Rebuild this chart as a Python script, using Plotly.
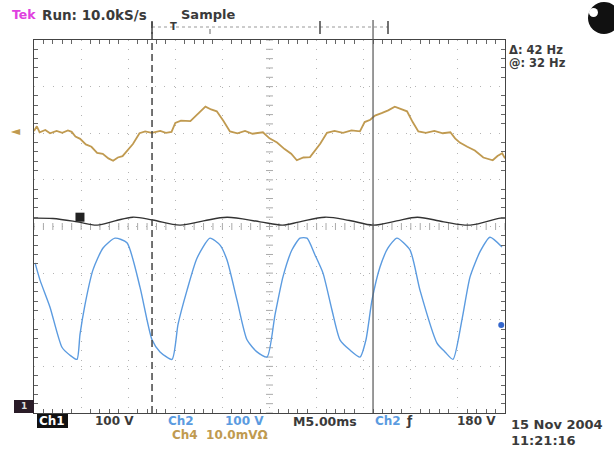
import numpy as np
import plotly.graph_objects as go

# ---------------- data (time in ms, vertical in divisions) ----------------
# Ch4 (tan) trace
t4 = [0.0, 0.3, 0.6, 1.2, 1.7, 2.4, 3.0, 3.6, 4.0, 4.4, 4.9, 5.5, 6.1, 6.7, 7.3, 7.9,
      8.4, 8.9, 9.4, 9.9, 10.5, 11.2, 11.8, 12.5, 13.4, 14.0, 14.6, 15.0, 15.6, 16.6,
      17.2, 17.6, 18.2, 18.8, 19.4, 20.1, 20.8, 21.6, 22.4, 23.2, 24.3, 25.0, 25.8,
      26.6, 27.3, 27.9, 28.6, 29.3, 29.8, 30.4, 31.1, 31.9, 32.8, 33.7, 34.6, 35.1,
      35.7, 36.2, 36.9, 37.6, 38.3, 39.0, 39.6, 40.2, 40.8, 41.6, 42.5, 43.4, 44.2,
      44.7, 45.2, 46.0, 46.8, 47.7, 48.2, 48.7, 49.2, 49.7, 50.0]
y4 = [2.05, 2.15, 2.02, 2.07, 2.00, 2.05, 2.01, 2.06, 2.03, 1.93, 1.88, 1.76, 1.71,
      1.58, 1.56, 1.46, 1.41, 1.48, 1.51, 1.62, 1.77, 2.00, 2.04, 2.01, 2.05, 2.01,
      2.03, 2.22, 2.27, 2.26, 2.38, 2.47, 2.57, 2.51, 2.47, 2.27, 2.04, 2.00, 2.05,
      1.99, 2.02, 1.89, 1.80, 1.66, 1.56, 1.42, 1.48, 1.49, 1.63, 1.78, 2.01, 2.05,
      2.01, 2.06, 2.04, 2.24, 2.29, 2.38, 2.43, 2.49, 2.57, 2.51, 2.47, 2.24, 2.04,
      2.01, 2.05, 2.00, 2.02, 1.89, 1.80, 1.71, 1.63, 1.48, 1.45, 1.42, 1.51, 1.57, 1.46]

# Ch3 (black) trace
t3 = [0.0, 2.0, 4.6, 6.7, 8.6, 10.5, 12.6, 15.5, 18.0, 20.5, 24.0, 26.4, 28.2, 30.9,
      33.5, 36.0, 38.5, 40.7, 43.5, 46.3, 49.5, 50.0]
y3 = [0.18, 0.17, 0.10, 0.03, 0.12, 0.20, 0.14, 0.03, 0.12, 0.20, 0.10, 0.03, 0.10,
      0.20, 0.13, 0.03, 0.12, 0.20, 0.10, 0.03, 0.18, 0.18]

# Ch2 (blue) trace
t2 = [0.11, 0.64, 1.70, 2.97, 3.82, 4.56, 4.88, 5.41, 6.26, 7.33, 8.60, 9.87, 11.25,
      12.53, 13.38, 14.65, 15.29, 16.24, 17.30, 18.68, 19.75, 20.49, 21.55, 22.61,
      23.67, 24.74, 25.58, 26.43, 27.39, 28.24, 28.98, 29.83, 30.68, 31.63, 32.48,
      33.54, 34.61, 35.24, 35.88, 36.73, 37.58, 38.53, 39.91, 40.98, 42.78, 43.63,
      44.48, 45.44, 46.29, 47.35, 48.41, 49.68]
y2 = [-0.78, -1.15, -1.73, -2.59, -2.76, -2.85, -2.32, -1.68, -0.93, -0.46, -0.25,
      -0.35, -1.30, -2.43, -2.69, -2.85, -2.10, -1.37, -0.68, -0.25, -0.40, -0.72,
      -1.58, -2.43, -2.69, -2.80, -1.90, -1.08, -0.50, -0.25, -0.25, -0.61, -1.00,
      -1.79, -2.43, -2.65, -2.80, -2.43, -1.58, -0.87, -0.46, -0.25, -0.50, -1.37,
      -2.50, -2.69, -2.85, -1.99, -1.08, -0.54, -0.23, -0.44]

# cursor times (ms)
cursors = [12.53, 35.99]
# Ch3 marker and Ch2 trigger-level marker
ch3_mark = (4.88, 0.20)
ch2_level = (49.6, -2.11)

assert len(t4) == len(y4) and len(t3) == len(y3) and len(t2) == len(y2)

# ---------------- figure ----------------
W, H = 614, 452
L, R, T, B = 34, 505, 40, 413


def px(x):
    return (x - L) / (R - L)


def py(y):
    return (B - y) / (B - T)


TAN = "#c09a50"
BLUE = "#5b9be0"
TXT = "#3a3a3a"
FONT = "DejaVu Sans"

fig = go.Figure()

# center crosshair ticks
minor_t = np.arange(0, 50.01, 1.0)
minor_y = np.arange(-4, 4.01, 0.2)
fig.add_trace(go.Scatter(x=minor_t, y=[0] * len(minor_t), mode="markers",
                         marker=dict(symbol="line-ns", size=5, line=dict(width=1, color="#aaa")),
                         hoverinfo="skip", showlegend=False))
fig.add_trace(go.Scatter(x=[25] * len(minor_y), y=minor_y, mode="markers",
                         marker=dict(symbol="line-ew", size=5, line=dict(width=1, color="#aaa")),
                         hoverinfo="skip", showlegend=False))

fig.add_trace(go.Scatter(x=t4, y=y4, mode="lines", line=dict(color=TAN, width=1.8),
                         showlegend=False))
fig.add_trace(go.Scatter(x=t3, y=y3, mode="lines", line=dict(color="#333333", width=1.4, shape="spline"),
                         showlegend=False))
fig.add_trace(go.Scatter(x=t2, y=y2, mode="lines", line=dict(color=BLUE, width=1.4, shape="spline", smoothing=0.6),
                         showlegend=False))
fig.add_trace(go.Scatter(x=[ch3_mark[0]], y=[ch3_mark[1]], mode="markers",
                         marker=dict(symbol="square", size=9, color="#222"), showlegend=False))
fig.add_trace(go.Scatter(x=[ch2_level[0]], y=[ch2_level[1]], mode="markers",
                         marker=dict(symbol="circle", size=6, color="#3366cc"), showlegend=False))

axis_common = dict(showticklabels=False, showgrid=True, gridcolor="#b4b4b4", gridwidth=1,
                   zeroline=False, showline=True, linecolor="#444", linewidth=1.2,
                   mirror="allticks", ticks="")
fig.update_xaxes(range=[0, 50], tick0=0, dtick=5, griddash="1px,8.4px",
                 minor=dict(ticks="inside", ticklen=4, dtick=1, tickcolor="#666", showgrid=False),
                 **axis_common)
fig.update_yaxes(range=[-4, 4], tick0=0, dtick=1, griddash="1px,8.3px",
                 minor=dict(ticks="inside", ticklen=4, dtick=0.2, tickcolor="#666", showgrid=False),
                 **axis_common)

shapes = []
# cursors
shapes.append(dict(type="line", xref="x", yref="paper", x0=cursors[0], x1=cursors[0],
                   y0=0, y1=py(22), line=dict(color="#444", width=1.5, dash="7px,4px")))
shapes.append(dict(type="line", xref="x", yref="paper", x0=cursors[1], x1=cursors[1],
                   y0=0, y1=py(20), line=dict(color="#555", width=1.2)))
# record bar
shapes.append(dict(type="line", xref="paper", yref="paper", x0=px(152), x1=px(388),
                   y0=py(27), y1=py(27), line=dict(color="#999", width=1, dash="dot")))
for xx in (152, 320, 388):
    shapes.append(dict(type="line", xref="paper", yref="paper", x0=px(xx), x1=px(xx),
                       y0=py(21), y1=py(34), line=dict(color="#444", width=1.5)))
shapes.append(dict(type="line", xref="paper", yref="paper", x0=px(210), x1=px(210),
                   y0=py(29), y1=py(34), line=dict(color="#666", width=1)))
# top-right icon
shapes.append(dict(type="circle", xref="paper", yref="paper", x0=px(588), x1=px(620),
                   y0=py(2), y1=py(34), fillcolor="#111", line=dict(width=0)))
shapes.append(dict(type="circle", xref="paper", yref="paper", x0=px(589), x1=px(598),
                   y0=py(8), y1=py(17), fillcolor="white", line=dict(width=0)))
# Ch1 marker box
shapes.append(dict(type="rect", xref="paper", yref="paper", x0=px(14), x1=px(34),
                   y0=py(400), y1=py(413), fillcolor="#2a1c28", line=dict(width=0)))
# Ch1 label box
shapes.append(dict(type="rect", xref="paper", yref="paper", x0=px(37), x1=px(68),
                   y0=py(414), y1=py(428), fillcolor="#111", line=dict(width=0)))

ann = []


def text(x, y, s, color=TXT, size=12, anchor="left", bold=True):
    ann.append(dict(xref="paper", yref="paper", x=px(x), y=py(y), text=(f"<b>{s}</b>" if bold else s),
                    showarrow=False, xanchor=anchor, yanchor="middle", borderpad=0,
                    font=dict(family=FONT, size=size, color=color)))


text(11, 15, "Tek", color="#e040e0", size=12.5)
text(41, 15, "Run: 10.0kS/s", size=13.5)
text(180, 15, "Sample", size=13)
text(508, 50, "Δ: 42 Hz", size=11.5)
text(508, 63, "@: 32 Hz", size=11.5)
text(169, 27, "T", size=10)
text(10, 131, "◄", color=TAN, size=12)
text(24, 406, "1", color="#ddd", size=9, anchor="center")
text(52, 421, "Ch1", color="white", size=12, anchor="center")
text(94, 421, "100 V", size=12)
text(167, 421, "Ch2", color=BLUE, size=12)
text(224, 421, "100 V", color=BLUE, size=12)
text(292, 421, "M5.00ms", size=12.5)
text(374, 421, "Ch2", color=BLUE, size=12)
text(405, 421, "ƒ", size=12)
text(456, 421, "180 V", size=12)
text(171, 435, "Ch4  10.0mVΩ", color=TAN, size=12)
text(510, 424, "15 Nov 2004", size=13)
text(510, 440, "11:21:16", size=13)

fig.update_layout(width=W, height=H, margin=dict(l=L, r=W - R, t=T, b=H - B),
                  paper_bgcolor="white", plot_bgcolor="white", shapes=shapes,
                  annotations=ann, showlegend=False, hovermode=False)

fig.write_html("out.html", config={"displayModeBar": False, "staticPlot": True},
               post_script="document.body.style.margin='0px';document.body.style.overflow='hidden';")
